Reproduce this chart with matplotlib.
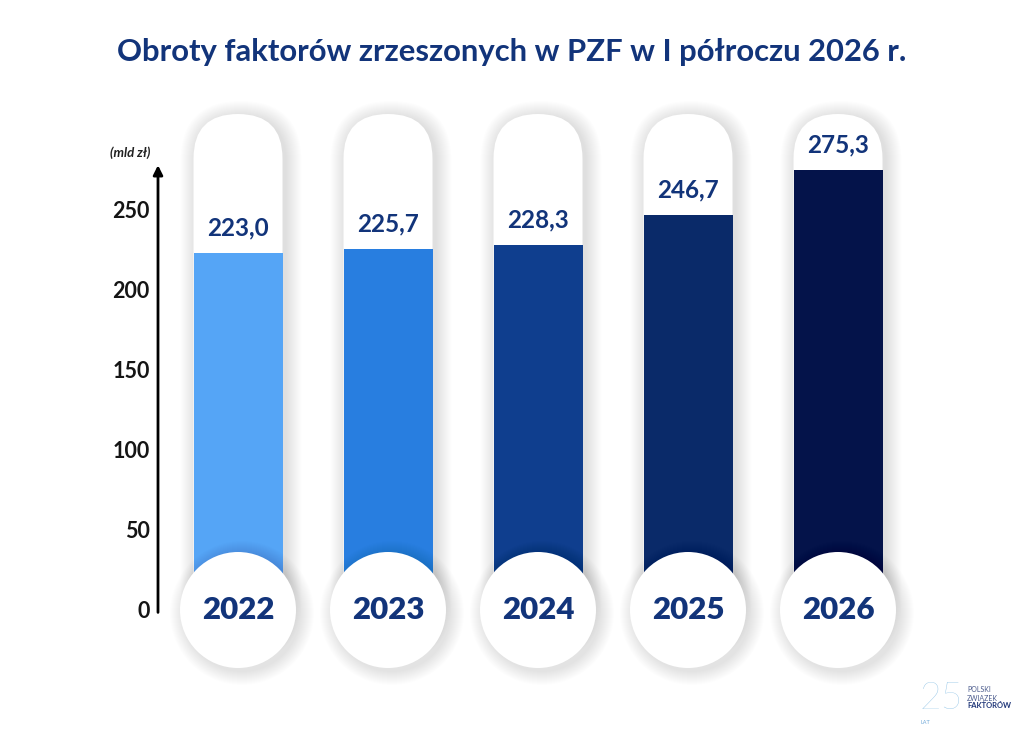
import matplotlib.pyplot as plt
from matplotlib.patches import FancyBboxPatch, Ellipse

plt.rcParams['font.family'] = ['Lato', 'DejaVu Sans']

# data
years = ['2022', '2023', '2024', '2025', '2026']
values = [223.0, 225.7, 228.3, 246.7, 275.3]
bar_colors = ['#55a5f6', '#287ee0', '#0f3e8e', '#0a2a69', '#04134a']
yticks = [0, 50, 100, 150, 200, 250]

title = 'Obroty faktorów zrzeszonych w PZF w I półroczu 2026 r.'
unit_label = '(mld zł)'

NAVY = '#12347a'
W, H = 1024, 731

# pixel scale of the data axes
PX_X = 150.0   # px per category
PX_Y = 1.6     # px per mld zł
PILL_W = 89 / PX_X
PILL_TOP = 310
CIRCLE_R = 58

fig = plt.figure(figsize=(W / 100, H / 100), dpi=100, facecolor='white')
left_px, right_px, zero_py = 158, 958, 610
ymax = 320
ax = fig.add_axes([left_px / W, (H - zero_py) / H,
                   (right_px - left_px) / W, ymax * PX_Y / H])
ax.set_xlim((left_px - 238) / PX_X, (right_px - 238) / PX_X)
ax.set_ylim(0, ymax)
for s in ax.spines.values():
    s.set_visible(False)
ax.set_xticks([])
ax.set_yticks(yticks)
ax.set_yticklabels([str(t) for t in yticks], fontsize=15.5, fontweight='bold', color='#151515')
ax.tick_params(axis='y', length=0, pad=6)

# y axis with arrow
ax.annotate('', xy=(0, 278), xytext=(0, -1.5), xycoords=ax.get_yaxis_transform(),
            arrowprops=dict(arrowstyle='-|>', color='black', lw=2, mutation_scale=14,
                            shrinkA=0, shrinkB=0), annotation_clip=False)
ax.text(-0.035, 286, unit_label, transform=ax.get_yaxis_transform(), ha='center', va='center',
        fontsize=9.5, fontstyle='italic', fontweight='bold', color='#222222')


def pill(xc, y0, y1, grow=0, dx=0, dy=0, **kw):
    gx = grow / PX_X
    gy = grow / PX_Y
    w = PILL_W + 2 * gx
    return FancyBboxPatch((xc - w / 2 + dx / PX_X, y0 - gy + dy / PX_Y), w, (y1 - y0) + 2 * gy,
                          boxstyle=f'round,pad=0,rounding_size={w / 2}',
                          mutation_aspect=PX_X / PX_Y, clip_on=False, **kw)


def circle(xc, yc, r_px, dx=0, dy=0, **kw):
    return Ellipse((xc + dx / PX_X, yc + dy / PX_Y), 2 * r_px / PX_X, 2 * r_px / PX_Y,
                   clip_on=False, **kw)


xs = list(range(len(years)))

for i in xs:
    # soft shadow of the capsule
    for g in range(1, 17):
        ax.add_patch(pill(i, -20, PILL_TOP, grow=g, dx=3, dy=-3, facecolor='black',
                          edgecolor='none', alpha=0.008, zorder=1))
    ax.add_patch(pill(i, -20, PILL_TOP, facecolor='white', edgecolor='none', zorder=2))

ax.bar(xs, values, width=PILL_W, color=bar_colors, zorder=3)

for i, v in zip(xs, values):
    ax.annotate(f'{v:.1f}'.replace('.', ','), xy=(i, v), xytext=(0, 18),
                textcoords='offset points', ha='center', va='center',
                fontsize=17.5, fontweight='bold', color=NAVY, zorder=6)

for i, yr in zip(xs, years):
    for g in range(1, 15):
        ax.add_patch(circle(i, 0, CIRCLE_R + g, dx=4, dy=-3, facecolor='black',
                            edgecolor='none', alpha=0.008, zorder=4))
    ax.add_patch(circle(i, 0, CIRCLE_R, facecolor='white', edgecolor='none', zorder=5))
    ax.text(i, 0, yr, ha='center', va='center', fontsize=22.5, fontweight='heavy',
            color=NAVY, zorder=6)

fig.text(0.5, (H - 52) / H, title, ha='center', va='center', fontsize=22.3,
         fontweight='bold', color=NAVY)

# logo
fig.text(941 / W, (H - 699) / H, '25', ha='center', va='center', fontsize=27,
         fontweight='light', color='#8fc3e6')
fig.text(925 / W, (H - 722) / H, 'LAT', ha='center', va='center', fontsize=4,
         color='#6fa8d8')
fig.text(967 / W, (H - 690) / H, 'POLSKI', ha='left', va='center', fontsize=5,
         color='#4a5a8c')
fig.text(967 / W, (H - 698) / H, 'ZWIĄZEK', ha='left', va='center', fontsize=5,
         color='#4a5a8c')
fig.text(967 / W, (H - 706) / H, 'FAKTORÓW', ha='left', va='center', fontsize=5.5,
         fontweight='bold', color='#1e3578')

fig.savefig('out.png', dpi=100, facecolor='white')
